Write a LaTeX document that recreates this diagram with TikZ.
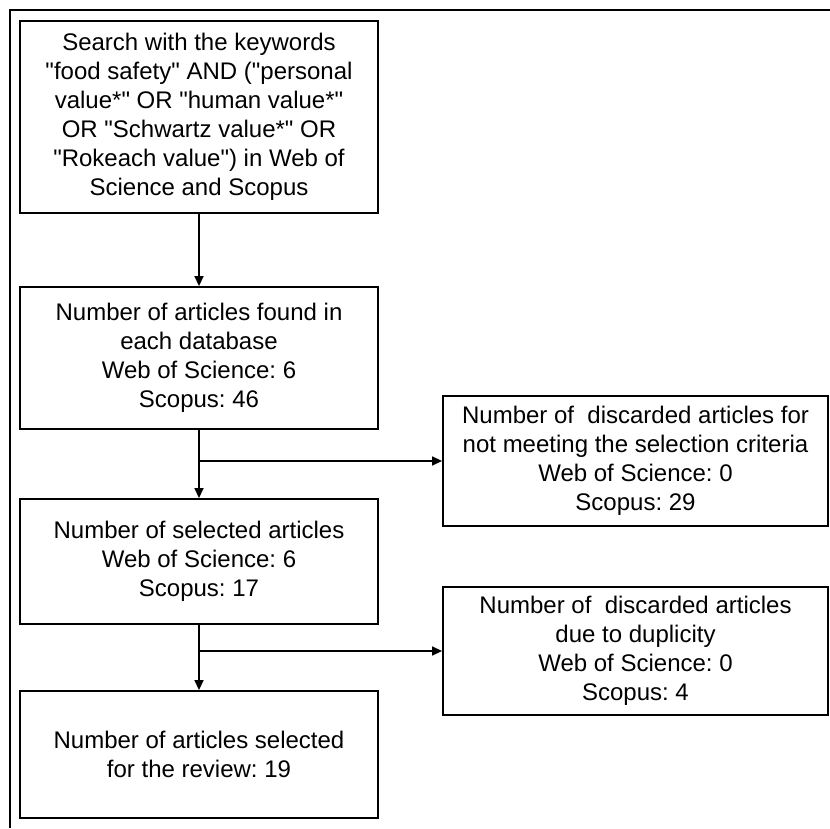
\documentclass[tikz,border=0pt]{standalone}
\usepackage{fontspec}
\setmainfont{Liberation Sans}[Ligatures=TeXOff]
\usetikzlibrary{arrows.meta}

\begin{document}
\frenchspacing
\begin{tikzpicture}[x=1pt,y=1pt,
    stagebox/.style={draw, line width=1.8pt, inner sep=0pt, align=center,
      font=\fontsize{24}{29}\selectfont},
    flow/.style={line width=1.4pt, -{Triangle[length=10pt,width=9pt]}}]
            \useasboundingbox (0,0) rectangle (830,828);
            \draw[line width=2pt] (830,818) -- (10,818) -- (10,0);

            \node[stagebox, minimum width=358, minimum height=192] (search) at (199,711)
              {Search with the keywords\\ "food safety" AND ("personal\\ value*" OR "human value*"\\ OR "Schwartz value*" OR\\ "Rokeach value") in Web of\\ Science and Scopus};
            \node[stagebox, minimum width=358, minimum height=142] (found) at (199,470)
              {Number of articles found in\\ each database\\ Web of Science: 6\\ Scopus: 46};
            \node[stagebox, minimum width=358, minimum height=125] (selected) at (199,266.5)
              {Number of selected articles\\ Web of Science: 6\\ Scopus: 17};
            \node[stagebox, minimum width=358, minimum height=127] (review) at (199,73.5)
              {Number of articles selected\\ for the review: 19};

            \node[stagebox, minimum width=385, minimum height=130] (criteria) at (635.5,367)
              {Number of\ \ discarded articles for\\ not meeting the selection criteria\\ Web of Science: 0\\ Scopus: 29};
            \node[stagebox, minimum width=385, minimum height=128] (duplicity) at (635.5,177)
              {Number of\ \ discarded articles\\ due to duplicity\\ Web of Science: 0\\ Scopus: 4};

            \coordinate (split1) at (199,367);
            \coordinate (split2) at (199,177);

            \draw[flow] (search) -- (found);
            \draw[line width=1.4pt] (found) -- (split1);
            \draw[flow] (split1) -- (criteria);
            \draw[flow] (split1) -- (selected);
            \draw[line width=1.4pt] (selected) -- (split2);
            \draw[flow] (split2) -- (duplicity);
            \draw[flow] (split2) -- (review);
        \end{tikzpicture}
\end{document}
